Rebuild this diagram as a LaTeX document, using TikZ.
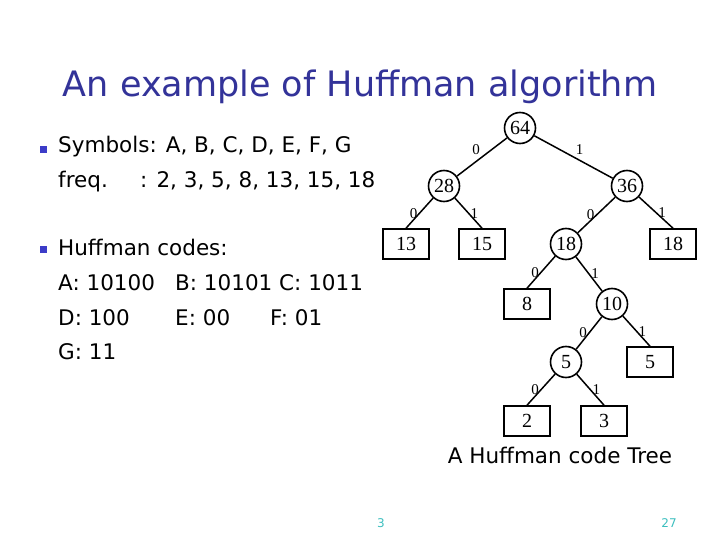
\documentclass[tikz,border=0pt]{standalone}
\usepackage{fontspec}
\setmainfont{DejaVu Sans}
\newfontfamily\treefont{Liberation Serif}
\usetikzlibrary{shapes.geometric, positioning}
\definecolor{titleblue}{RGB}{51,51,153}
\definecolor{bulletblue}{RGB}{60,60,200}
\definecolor{pageteal}{RGB}{60,190,190}
\tikzstyle{inner2} = [circle, minimum size=31pt, inner sep=0pt, draw=black, line width=1.6pt, font=\treefont\fontsize{20}{20}\selectfont]
\tikzstyle{leaf2} = [rectangle, minimum width=46pt, minimum height=30pt, inner sep=0pt, draw=black, line width=1.6pt, font=\treefont\fontsize{20}{20}\selectfont]
\tikzstyle{edge2} = [line width=1.5pt]
\tikzstyle{bit2} = [font=\treefont\fontsize{15}{15}\selectfont, inner sep=1.5pt]
\tikzstyle{body2} = [anchor=base west, inner sep=0pt, font=\fontsize{21.5}{21.5}\selectfont]
\tikzstyle{bullet2} = [rectangle, minimum size=7pt, inner sep=0pt, fill=bulletblue]

\begin{document}
\begin{tikzpicture}[x=1pt, y=-1pt]
    \useasboundingbox (0,0) rectangle (720,540);

    % Title and text
    \node (title) [anchor=base, inner sep=0pt, text=titleblue, font=\fontsize{35}{35}\selectfont] at (360,97) {An example of Huffman algorithm};
    \node (b1) [bullet2] at (43,150) {};
    \node (sym) [body2] at (58,153) {Symbols: A, B, C, D, E, F, G};
    \node (freq) [body2] at (58,188) {\makebox[82pt][l]{freq.}: 2, 3, 5, 8, 13, 15, 18};
    \node (b2) [bullet2] at (43,249) {};
    \node (codes) [body2] at (58,255) {Huffman codes:};
    \node (codeA) [body2] at (58,290) {\makebox[117pt][l]{A: 10100}B: 10101 C: 1011};
    \node (codeD) [body2] at (58,325) {\makebox[117pt][l]{D: 100}\makebox[95pt][l]{E: 00}F: 01};
    \node (codeG) [body2] at (58,359) {G: 11};

    % Place nodes
    \node (n64) [inner2] at (520,128) {64};
    \node (n28) [inner2] at (444,186) {28};
    \node (n36) [inner2] at (627,186) {36};
    \node (l13) [leaf2] at (406,244) {13};
    \node (l15) [leaf2] at (482,244) {15};
    \node (n18) [inner2] at (566,244) {18};
    \node (l18) [leaf2] at (673,244) {18};
    \node (l8) [leaf2] at (527,304) {8};
    \node (n10) [inner2] at (612,304) {10};
    \node (n5) [inner2] at (566,362) {5};
    \node (l5) [leaf2] at (650,362) {5};
    \node (l2) [leaf2] at (527,421) {2};
    \node (l3) [leaf2] at (604,421) {3};

    % Draw edges
    \draw [edge2] (n64) -- node[bit2, above left] {0} (n28);
    \draw [edge2] (n64) -- node[bit2, above right] {1} (n36);
    \draw [edge2] (n28) -- node[bit2, left] {0} (l13.north);
    \draw [edge2] (n28) -- node[bit2, right] {1} (l15.north);
    \draw [edge2] (n36) -- node[bit2, left] {0} (n18);
    \draw [edge2] (n36) -- node[bit2, right] {1} (l18.north);
    \draw [edge2] (n18) -- node[bit2, left] {0} (l8.north);
    \draw [edge2] (n18) -- node[bit2, right] {1} (n10);
    \draw [edge2] (n10) -- node[bit2, left] {0} (n5);
    \draw [edge2] (n10) -- node[bit2, right] {1} (l5.north);
    \draw [edge2] (n5) -- node[bit2, left] {0} (l2.north);
    \draw [edge2] (n5) -- node[bit2, right] {1} (l3.north);

    % Caption and page numbers
    \node (caption) [anchor=base, inner sep=0pt, font=\fontsize{21.5}{21.5}\selectfont] at (560,463) {A Huffman code Tree};
    \node (page1) [anchor=base, inner sep=0pt, text=pageteal, font=\fontsize{12}{12}\selectfont] at (381,527) {3};
    \node (page2) [anchor=base, inner sep=0pt, text=pageteal, font=\fontsize{12}{12}\selectfont] at (669,527) {27};
\end{tikzpicture}
\end{document}
